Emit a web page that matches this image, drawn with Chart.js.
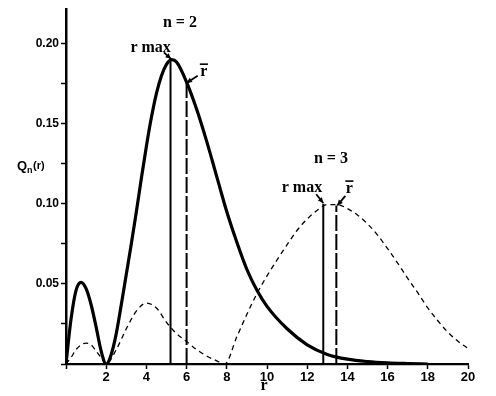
<!DOCTYPE html>
<html>
<head>
<meta charset="utf-8">
<script src="https://cdn.jsdelivr.net/npm/chart.js@4/dist/chart.umd.min.js"></script>
<style>
html,body{margin:0;padding:0;background:#fff;}
#c{display:block;}
</style>
</head>
<body>
<canvas id="c" width="496" height="396"></canvas>
<script>
// ---- data ----
const rN2 = [0,0.25,0.5,0.75,1,1.25,1.5,1.75,2,2.25,2.5,2.75,3,3.25,3.5,3.75,4,4.25,4.5,4.75,5,5.25,5.5,6,6.5,7,7.5,8,8.5,9,9.5,10,11,12,13,14,15,16,17,18];
const qN2 = [0,0.028,0.046,0.051,0.047,0.037,0.023,0.008,0,0.006,0.019,0.037,0.056,0.075,0.095,0.116,0.136,0.154,0.169,0.180,0.187,0.190,0.1885,0.176,0.159,0.139,0.117,0.095,0.076,0.059,0.046,0.036,0.022,0.012,0.006,0.003,0.0015,0.0007,0.0003,0];

const rN3 = [0,0.25,0.5,0.75,1,1.25,1.5,1.75,2,2.5,3,3.5,4,4.5,5,5.5,6,6.5,7,7.5,7.9,8.5,9,9.5,10,10.5,11,11.5,12,12.5,13,13.5,14,14.5,15,15.5,16,16.5,17,17.5,18,18.5,19,19.5,20];
const qN3 = [0,0.004,0.009,0.012,0.013,0.012,0.008,0.004,0,0.009,0.022,0.033,0.038,0.035,0.026,0.019,0.014,0.009,0.005,0.002,0,0.017,0.031,0.044,0.055,0.065,0.0745,0.0835,0.0905,0.096,0.0995,0.0995,0.097,0.093,0.0875,0.0805,0.072,0.063,0.0535,0.0445,0.035,0.027,0.0198,0.0142,0.0098];

// r max and mean r markers: [r, Q at top of line]
const rMaxN2 = [5.2, 0.190];
const rBarN2 = [6.0, 0.176];
const rMaxN3 = [12.8, 0.100];
const rBarN3 = [13.45, 0.099];

const xTicks = [2,4,6,8,10,12,14,16,18,20];
const yTickLabels = ['0.05','0.10','0.15','0.20'];
const xTitle = 'r';
const yTitle = ['Q','n','(r)'];
const textLabels = ['n = 2','r max','r','n = 3','r max','r'];

// ---- build datasets ----
const toPts = (xs, ys) => xs.map((x, i) => ({x: x, y: ys[i]}));
const vline = (m) => [{x: m[0], y: 0}, {x: m[0], y: m[1]}];

const datasets = [
  {data: toPts(rN2, qN2), borderColor:'#000', borderWidth:3.2, pointRadius:0, cubicInterpolationMode:'monotone', fill:false},
  {data: toPts(rN3, qN3), borderColor:'#000', borderWidth:1.3, borderDash:[5,4], pointRadius:0, cubicInterpolationMode:'monotone', fill:false},
  {data: vline(rMaxN2), borderColor:'#000', borderWidth:2, pointRadius:0},
  {data: vline(rBarN2), borderColor:'#000', borderWidth:2, borderDash:[16,3], pointRadius:0},
  {data: vline(rMaxN3), borderColor:'#000', borderWidth:2, pointRadius:0},
  {data: vline(rBarN3), borderColor:'#000', borderWidth:2, borderDash:[16,3], pointRadius:0}
];

// annotation placements in data units
const notes = [
  {t: textLabels[0], x: 5.67, y: 0.213},
  {t: textLabels[1], x: 4.21, y: 0.1975},
  {t: textLabels[2], x: 6.86, y: 0.1825, bar: true},
  {t: textLabels[3], x: 13.18, y: 0.128},
  {t: textLabels[4], x: 11.74, y: 0.110},
  {t: textLabels[5], x: 14.1, y: 0.1095, bar: true}
];
const arrows = [
  {from:[4.87,0.1945], to:[5.22,0.1905]},
  {from:[6.55,0.180], to:[6.0,0.1755]},
  {from:[12.45,0.106], to:[12.8,0.1005]},
  {from:[13.9,0.105], to:[13.5,0.099]}
];

function arrow(ctx, x1, y1, x2, y2) {
  ctx.beginPath();
  ctx.moveTo(x1, y1); ctx.lineTo(x2, y2);
  ctx.lineWidth = 1.8; ctx.stroke();
  const a = Math.atan2(y2 - y1, x2 - x1), L = 6, W = 0.45;
  ctx.beginPath();
  ctx.moveTo(x2, y2);
  ctx.lineTo(x2 - L*Math.cos(a - W), y2 - L*Math.sin(a - W));
  ctx.lineTo(x2 - L*Math.cos(a + W), y2 - L*Math.sin(a + W));
  ctx.closePath(); ctx.fill();
}

const annot = {
  id: 'annot',
  afterDraw(chart) {
    const ctx = chart.ctx, xs = chart.scales.x, ys = chart.scales.y;
    ctx.save();
    ctx.fillStyle = '#000'; ctx.strokeStyle = '#000';
    ctx.textAlign = 'center'; ctx.textBaseline = 'middle';
    ctx.font = 'bold 16px "Liberation Serif", "Times New Roman", serif';
    notes.forEach(n => {
      const px = xs.getPixelForValue(n.x), py = ys.getPixelForValue(n.y);
      ctx.fillText(n.t, px, py);
      if (n.bar) {
        const w = ctx.measureText(n.t).width;
        ctx.beginPath(); ctx.lineWidth = 1.6;
        ctx.moveTo(px - w/2 - 0.5, py - 7.5); ctx.lineTo(px + w/2 + 0.5, py - 7.5); ctx.stroke();
      }
    });
    arrows.forEach(a => arrow(ctx, xs.getPixelForValue(a.from[0]), ys.getPixelForValue(a.from[1]),
                                   xs.getPixelForValue(a.to[0]), ys.getPixelForValue(a.to[1])));
    // x-axis title
    ctx.font = 'bold 16px "Liberation Serif", "Times New Roman", serif';
    ctx.fillText(xTitle, xs.getPixelForValue(9.85), 386);
    // y-axis title Qn(r)
    ctx.textAlign = 'left';
    const yy = ys.getPixelForValue(0.1235);
    ctx.font = 'bold 13px "Liberation Sans", Arial, sans-serif';
    ctx.fillText(yTitle[0], 17, yy);
    const w0 = ctx.measureText(yTitle[0]).width;
    ctx.font = 'bold 9px "Liberation Sans", Arial, sans-serif';
    ctx.fillText(yTitle[1], 17 + w0, yy + 4);
    const w1 = ctx.measureText(yTitle[1]).width;
    ctx.font = 'bold 11px "Liberation Sans", Arial, sans-serif';
    ctx.fillText(yTitle[2], 17 + w0 + w1 + 0.5, yy);
    ctx.restore();
  }
};

new Chart(document.getElementById('c'), {
  type: 'line',
  data: {datasets: datasets},
  options: {
    responsive: false,
    animation: false,
    events: [],
    layout: {padding: {top: 4, right: 28, left: 0, bottom: 0}},
    plugins: {legend: {display: false}, tooltip: {enabled: false}},
    scales: {
      x: {
        type: 'linear', min: 0, max: 20,
        afterBuildTicks: s => { s.ticks = [0].concat(xTicks).map(v => ({value: v})); },
        ticks: {
          color: '#000', padding: 1, maxRotation: 0, autoSkip: false,
          font: {family: '"Liberation Sans", Arial, sans-serif', size: 13, weight: 'bold'},
          callback: v => (xTicks.indexOf(v) >= 0 ? String(v) : '')
        },
        grid: {drawOnChartArea: false, drawTicks: true, tickLength: 5, tickWidth: 1.5, tickColor: '#000'},
        border: {display: true, color: '#000', width: 2.2},
        afterFit: s => { s.height = 32; }
      },
      y: {
        type: 'linear', min: 0, max: 0.2215,
        afterBuildTicks: s => {
          const t = [];
          for (let k = 0; k <= 8; k++) t.push({value: k * 0.025});
          s.ticks = t;
        },
        ticks: {
          color: '#000', padding: 2, autoSkip: false,
          font: {family: '"Liberation Sans", Arial, sans-serif', size: 12, weight: 'bold'},
          callback: v => { const s = v.toFixed(2); return yTickLabels.indexOf(s) >= 0 && Math.abs(v*40 % 2) < 0.01 ? s : ''; }
        },
        grid: {drawOnChartArea: false, drawTicks: true, tickLength: 5, tickWidth: 1.5, tickColor: '#000'},
        border: {display: true, color: '#000', width: 2.5},
        afterFit: s => { s.width = 66; }
      }
    }
  },
  plugins: [annot]
});
</script>
</body>
</html>
